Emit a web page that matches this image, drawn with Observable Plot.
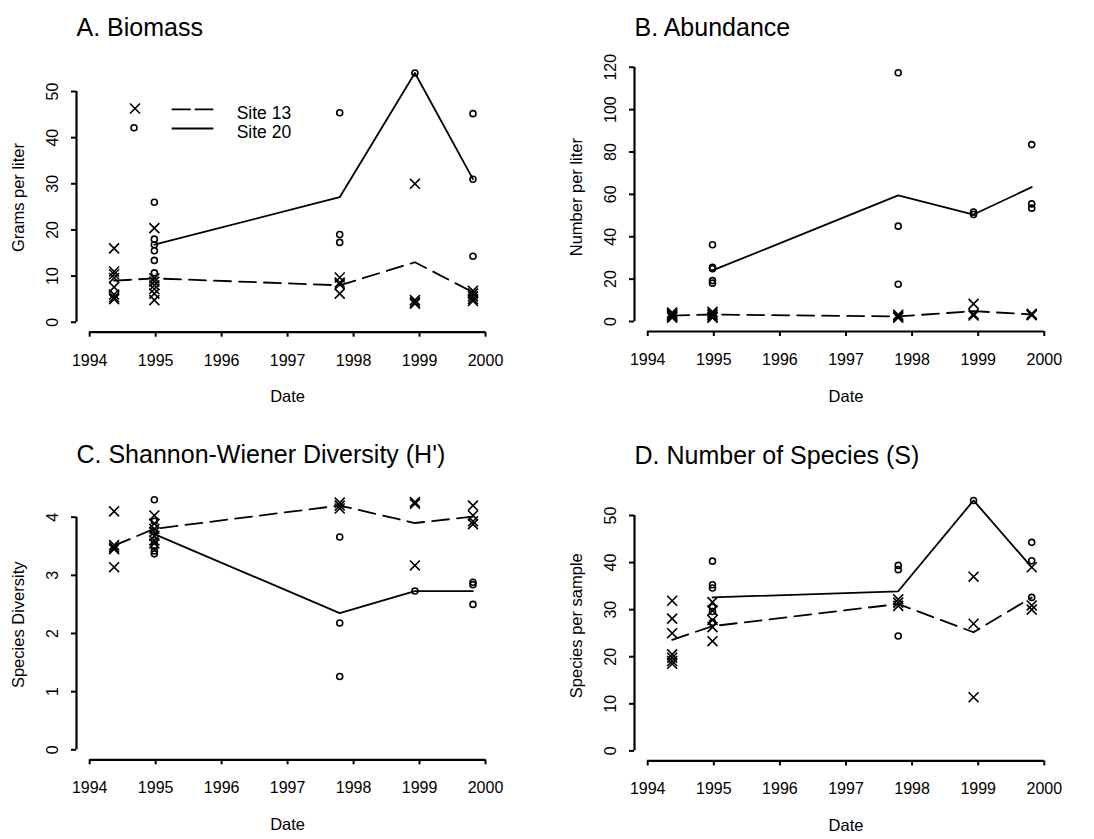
<!DOCTYPE html>
<html><head><meta charset="utf-8">
<script src="https://cdn.jsdelivr.net/npm/d3@7"></script>
<script src="https://cdn.jsdelivr.net/npm/@observablehq/plot@0.6"></script>
<style>
html,body{margin:0;padding:0;background:#fff;}
#fig{position:relative;width:1094px;height:839px;background:#fff;font-family:"Liberation Sans",Arial,Helvetica,sans-serif;overflow:hidden;}
#fig > svg{position:absolute;}
</style></head><body><div id="fig"></div>
<script>
// ---------- data ----------
const years = [1994, 1995, 1996, 1997, 1998, 1999, 2000];
const sampleDates = [1994.37, 1994.98, 1997.79, 1998.93, 1999.81];
const sites = ["Site 13", "Site 20"];

// A. Biomass (grams per liter)
const biomassSite13 = [
  [16.0, 11.0, 10.4, 9.6, 7.6, 6.0, 5.4, 5.0],
  [20.4, 9.5, 8.8, 8.0, 7.2, 6.2, 4.8],
  [9.7, 8.6, 8.2, 6.2],
  [30.0, 4.8, 4.3, 4.0],
  [6.8, 6.2, 5.6, 5.0, 4.6]
];
const biomassSite20 = [
  [],
  [26.0, 18.0, 16.8, 15.5, 13.4, 10.7],
  [45.4, 19.0, 17.3],
  [54.0],
  [45.2, 31.0, 14.3]
];
const biomassLine13 = [9.0, 9.5, 8.0, 13.0, 6.5];
const biomassLine20 = [null, 16.8, 27.1, 54.0, 31.0];
const biomassTicks = [0, 10, 20, 30, 40, 50];

// B. Abundance (number per liter)
const abundanceSite13 = [
  [4.2, 3.6, 3.0, 2.6, 2.2, 1.8],
  [4.6, 3.8, 3.0, 2.2, 1.8],
  [3.2, 2.4, 1.8],
  [8.3, 3.5, 2.8],
  [3.6, 3.2, 3.0]
];
const abundanceSite20 = [
  [],
  [36.2, 25.6, 24.9, 19.3, 18.1],
  [117.4, 45.0, 17.6],
  [51.6, 50.5],
  [83.5, 55.5, 53.5]
];
const abundanceLine13 = [2.8, 3.3, 2.4, 4.9, 3.3];
const abundanceLine20 = [null, 24.1, 59.5, 50.5, 63.4];
const abundanceTicks = [0, 20, 40, 60, 80, 100, 120];

// C. Shannon-Wiener Diversity (H')
const diversitySite13 = [
  [4.10, 3.52, 3.48, 3.45, 3.14],
  [4.03, 3.89, 3.80, 3.75, 3.68, 3.60, 3.55],
  [4.25, 4.20, 4.15],
  [4.26, 4.23, 3.17],
  [4.20, 4.03, 3.93, 3.88]
];
const diversitySite20 = [
  [],
  [4.30, 3.93, 3.75, 3.60, 3.50, 3.42, 3.37],
  [3.66, 2.18, 1.26],
  [2.73],
  [2.88, 2.84, 2.50]
];
const diversityLine13 = [3.51, 3.80, 4.20, 3.90, 4.01];
const diversityLine20 = [null, 3.71, 2.35, 2.73, 2.73];
const diversityTicks = [0, 1, 2, 3, 4];

// D. Number of Species (S)
const speciesSite13 = [
  [31.9, 28.1, 25.0, 20.5, 19.8, 19.1, 18.5],
  [31.6, 29.8, 27.8, 26.3, 23.3],
  [32.2, 31.5, 30.8],
  [37.0, 27.0, 11.4],
  [39.0, 30.9, 30.0]
];
const speciesSite20 = [
  [],
  [40.3, 35.3, 34.6, 30.5, 29.6, 27.3],
  [39.4, 38.5, 24.4],
  [53.2],
  [44.3, 40.4, 32.6]
];
const speciesLine13 = [23.6, 26.5, 31.2, 25.2, 32.6];
const speciesLine20 = [null, 32.6, 33.9, 53.2, 39.0];
const speciesTicks = [0, 10, 20, 30, 40, 50];

// ---------- drawing ----------
const FONT = '"Liberation Sans", Arial, Helvetica, sans-serif';
const xDomain = [1993.8, 2000.2];

function toPoints(groups) {
  return groups.flatMap((vals, i) => vals.map(v => ({date: sampleDates[i], value: v})));
}
function toLine(vals) {
  return vals.map((v, i) => ({date: sampleDates[i], value: v})).filter(d => d.value != null);
}

function panel(cfg) {
  const {title, ylabel, ticks, yDomain, s13, s20, l13, l20, left, top, width, height, mL, mR, mT, mB} = cfg;
  const svg = Plot.plot({
    width, height,
    marginLeft: mL, marginRight: mR, marginTop: mT, marginBottom: mB,
    x: {domain: xDomain},
    y: {domain: yDomain},
    style: {fontFamily: FONT, fontSize: "16px", color: "black", background: "transparent", overflow: "visible"},
    marks: [
      Plot.ruleY([yDomain[0]], {x1: years[0], x2: years[years.length - 1], strokeWidth: 2.2}),
      Plot.ruleX([xDomain[0]], {y1: ticks[0], y2: ticks[ticks.length - 1], strokeWidth: 2.2}),
      Plot.axisX({ticks: years, tickFormat: d => String(d), tickSize: 5, tickPadding: 17, strokeWidth: 2, fontSize: 16, label: null}),
      Plot.axisY({ticks, tickFormat: d => String(d), tickSize: 5, tickPadding: 14, tickRotate: -90, strokeWidth: 2, fontSize: 16, label: null}),
      Plot.line(toLine(l13), {x: "date", y: "value", strokeWidth: 1.8, strokeDasharray: "17,8"}),
      Plot.line(toLine(l20), {x: "date", y: "value", strokeWidth: 1.8}),
      Plot.dot(toPoints(s13), {x: "date", y: "value", symbol: "times", r: 4.6, stroke: "black", strokeWidth: 1.6}),
      Plot.dot(toPoints(s20), {x: "date", y: "value", symbol: "circle", r: 3, stroke: "black", fill: "none", strokeWidth: 1.6}),
      Plot.text([title], {frameAnchor: "top-left", textAnchor: "start", lineAnchor: "bottom", dy: -27, fontSize: 25}),
      Plot.text(["Date"], {frameAnchor: "bottom", lineAnchor: "bottom", dy: 70, fontSize: 16.5}),
      Plot.text([ylabel], {frameAnchor: "left", rotate: -90, textAnchor: "middle", lineAnchor: "bottom", dx: -52.5, fontSize: 16.5})
    ]
  });
  svg.style.left = left + "px";
  svg.style.top = top + "px";
  return svg;
}

const fig = document.getElementById("fig");
const leftCol = {left: 0, width: 547, mL: 76, mR: 48.8};
const rightCol = {left: 547, width: 547, mL: 87, mR: 37};
const topRow = {top: 0, height: 420};
const botRow = {top: 420, height: 419};

fig.appendChild(panel({...leftCol, ...topRow, mT: 62.4, mB: 88.3,
  title: "A. Biomass", ylabel: "Grams per liter", ticks: biomassTicks, yDomain: [-2.16, 56.2],
  s13: biomassSite13, s20: biomassSite20, l13: biomassLine13, l20: biomassLine20}));
fig.appendChild(panel({...rightCol, ...topRow, mT: 62.3, mB: 89,
  title: "B. Abundance", ylabel: "Number per liter", ticks: abundanceTicks, yDomain: [-4.72, 122.1],
  s13: abundanceSite13, s20: abundanceSite20, l13: abundanceLine13, l20: abundanceLine20}));
fig.appendChild(panel({...leftCol, ...botRow, mT: 69.3, mB: 79.7,
  title: "C. Shannon-Wiener Diversity (H')", ylabel: "Species Diversity", ticks: diversityTicks, yDomain: [-0.172, 4.471],
  s13: diversitySite13, s20: diversitySite20, l13: diversityLine13, l20: diversityLine20}));
fig.appendChild(panel({...rightCol, ...botRow, mT: 70, mB: 78.6,
  title: "D. Number of Species (S)", ylabel: "Species per sample", ticks: speciesTicks, yDomain: [-2.124, 55.31],
  s13: speciesSite13, s20: speciesSite20, l13: speciesLine13, l20: speciesLine20}));

// ---------- legend (panel A) ----------
const leg = d3.select(fig).append("svg")
  .attr("width", 200).attr("height", 50)
  .style("left", "120px").style("top", "95px")
  .style("font-family", FONT).style("overflow", "visible");
const times = d3.symbol(d3.symbolTimes, Math.PI * 4.6 * 4.6)();
const rows = leg.selectAll("g").data(sites).join("g")
  .attr("transform", (d, i) => `translate(0,${i * 19.2})`);
rows.filter((d, i) => i === 0).append("path")
  .attr("d", times)
  .attr("transform", "translate(15,13.5)")
  .attr("stroke", "black").attr("stroke-width", 1.6).attr("fill", "none");
rows.filter((d, i) => i === 1).append("circle")
  .attr("cx", 14).attr("cy", 13.5).attr("r", 3)
  .attr("stroke", "black").attr("stroke-width", 1.6).attr("fill", "none");
rows.append("line")
  .attr("x1", 51.7).attr("x2", 93.3).attr("y1", 14.3).attr("y2", 14.3)
  .attr("stroke", "black").attr("stroke-width", 1.8)
  .attr("stroke-dasharray", (d, i) => i === 0 ? "19,4" : null);
rows.append("text")
  .attr("x", 116.7).attr("y", 24)
  .attr("font-size", 17.5)
  .text(d => d);
</script>
</body></html>
